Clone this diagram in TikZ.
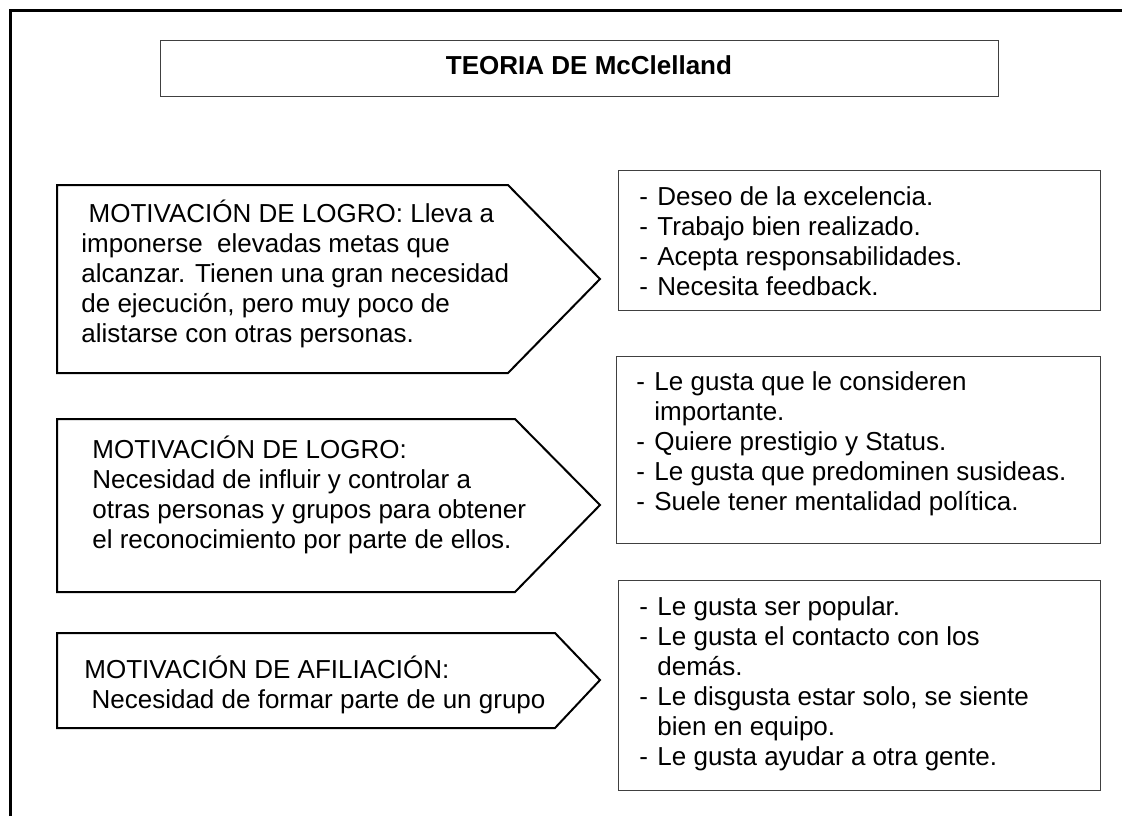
\documentclass[tikz,border=0pt]{standalone}
\usepackage{fontspec}
\setmainfont{Liberation Sans}

\newcommand{\itm}{\makebox[9pt][l]{-}}
\newcommand{\cnt}{\hspace*{9pt}}
\newcommand{\lntop}{\rule{0pt}{12pt}}

\begin{document}
\begin{tikzpicture}[x=0.5pt, y=-0.5pt,
    txt/.style={anchor=north west, inner sep=0pt, align=left, font=\fontsize{13pt}{15pt}\selectfont},
    arrowbox/.style={draw=black, line width=1pt},
    listbox/.style={draw=black!75, line width=0.5pt}]
    \useasboundingbox (0,0) rectangle (1122,816);
    \draw [line width=1.5pt] (10,816) -- (10,10) -- (1122,10);

    % titulo
    \draw [listbox] (160,40) rectangle (998,96);
    \node (titulo) [anchor=base, inner sep=0pt, font=\fontsize{13pt}{15pt}\selectfont\bfseries] at (589,74) {TEORIA DE McClelland};

    % flechas de la izquierda
    \draw [arrowbox] (57,185) -- (508,185) -- (600,279) -- (508,373) -- (57,373) -- cycle;
    \node (logro) [txt] at (81,222-24) {\lntop\ MOTIVACIÓN DE LOGRO: Lleva a\\imponerse\ \ elevadas metas que\\alcanzar. Tienen una gran necesidad\\de ejecución, pero muy poco de\\alistarse con otras personas.};

    \draw [arrowbox] (57,419) -- (515,419) -- (600,505) -- (515,592) -- (57,592) -- cycle;
    \node (poder) [txt] at (92,458-24) {\lntop MOTIVACIÓN DE LOGRO:\\Necesidad de influir y controlar a\\otras personas y grupos para obtener\\el reconocimiento por parte de ellos.};

    \draw [arrowbox] (57,633) -- (555,633) -- (600,680) -- (555,728) -- (57,728) -- cycle;
    \node (afiliacion) [txt] at (84,678-24) {\lntop MOTIVACIÓN DE AFILIACIÓN:\\\ Necesidad de formar parte de un grupo};

    % listas de la derecha
    \draw [listbox] (618,170) rectangle (1100,310);
    \node (logrolista) [txt] at (639,205-24) {\lntop\itm Deseo de la excelencia.\\\itm Trabajo bien realizado.\\\itm Acepta responsabilidades.\\\itm Necesita feedback.};

    \draw [listbox] (616,356) rectangle (1100,543);
    \node (poderlista) [txt] at (636,390-24) {\lntop\itm Le gusta que le consideren\\\cnt importante.\\\itm Quiere prestigio y Status.\\\itm Le gusta que predominen susideas.\\\itm Suele tener mentalidad política.};

    \draw [listbox] (618,580) rectangle (1100,790);
    \node (afiliacionlista) [txt] at (639,615-24) {\lntop\itm Le gusta ser popular.\\\itm Le gusta el contacto con los\\\cnt demás.\\\itm Le disgusta estar solo, se siente\\\cnt bien en equipo.\\\itm Le gusta ayudar a otra gente.};
\end{tikzpicture}
\end{document}
